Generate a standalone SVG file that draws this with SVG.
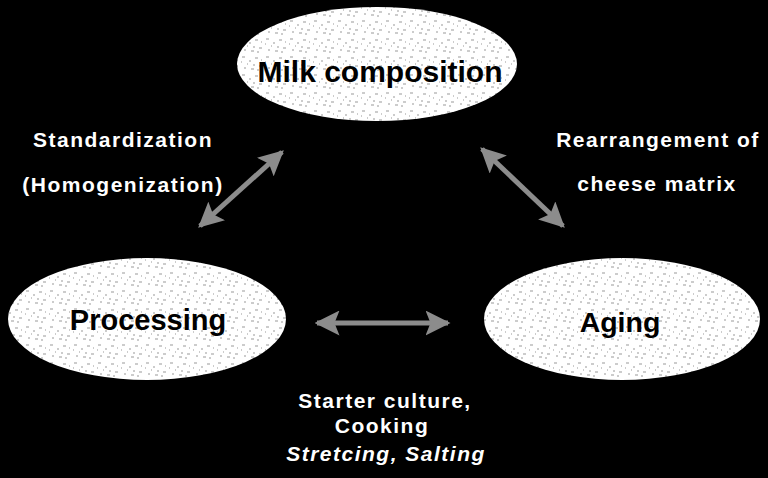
<svg xmlns="http://www.w3.org/2000/svg" width="768" height="478" viewBox="0 0 768 478">
<defs>
<pattern id="tex" width="24" height="18" patternUnits="userSpaceOnUse">
<rect width="24" height="18" fill="#ffffff"/>
<path d="M2 3h3M9 7h2M15 4h3M19 12h3M4 14h2M11 15h3M7 10h1M21 6h1M13 11h2M1 8h1M17 16h2" stroke="#9a9a9a" stroke-width="1"/>
</pattern>
<marker id="ah" viewBox="0 0 10 10" refX="9" refY="5" markerWidth="5" markerHeight="5" orient="auto-start-reverse" markerUnits="strokeWidth">
<path d="M0 0L10 5L0 10L2 5Z" fill="#8c8c8c"/>
</marker>
<style>
.node{fill:url(#tex);stroke:none}
.nl{font-family:"Liberation Sans",Arial,sans-serif;font-weight:bold;fill:#000;text-anchor:middle}
.lbl{font-family:"Liberation Sans",Arial,sans-serif;font-weight:bold;fill:#fff;font-size:21px;letter-spacing:1.5px;text-anchor:middle}
.arr{stroke:#8c8c8c;stroke-width:5;fill:none;marker-start:url(#ah);marker-end:url(#ah)}
</style>
</defs>
<rect width="768" height="478" fill="#000"/>
<g id="milk">
<ellipse class="node" cx="377" cy="64" rx="140" ry="57"/>
<text class="nl" x="380" y="82" font-size="30">Milk composition</text>
</g>
<g id="processing">
<ellipse class="node" cx="147" cy="319" rx="139" ry="61"/>
<text class="nl" x="148" y="330" font-size="29">Processing</text>
</g>
<g id="aging">
<ellipse class="node" cx="622" cy="319" rx="138" ry="61"/>
<text class="nl" x="620" y="332" font-size="28.5">Aging</text>
</g>
<g id="connectors">
<line class="arr" x1="200" y1="226" x2="282" y2="152"/>
<line class="arr" x1="482" y1="149" x2="563" y2="226"/>
<line class="arr" x1="317" y1="323" x2="448" y2="323"/>
</g>
<g id="labels">
<text class="lbl" x="123" y="147">Standardization</text>
<text class="lbl" x="123" y="192">(Homogenization)</text>
<text class="lbl" x="658" y="147">Rearrangement of</text>
<text class="lbl" x="657" y="191">cheese matrix</text>
<text class="lbl" x="385" y="408">Starter culture,</text>
<text class="lbl" x="382" y="433">Cooking</text>
<text class="lbl" x="386" y="461" font-style="italic">Stretcing, Salting</text>
</g>
</svg>
